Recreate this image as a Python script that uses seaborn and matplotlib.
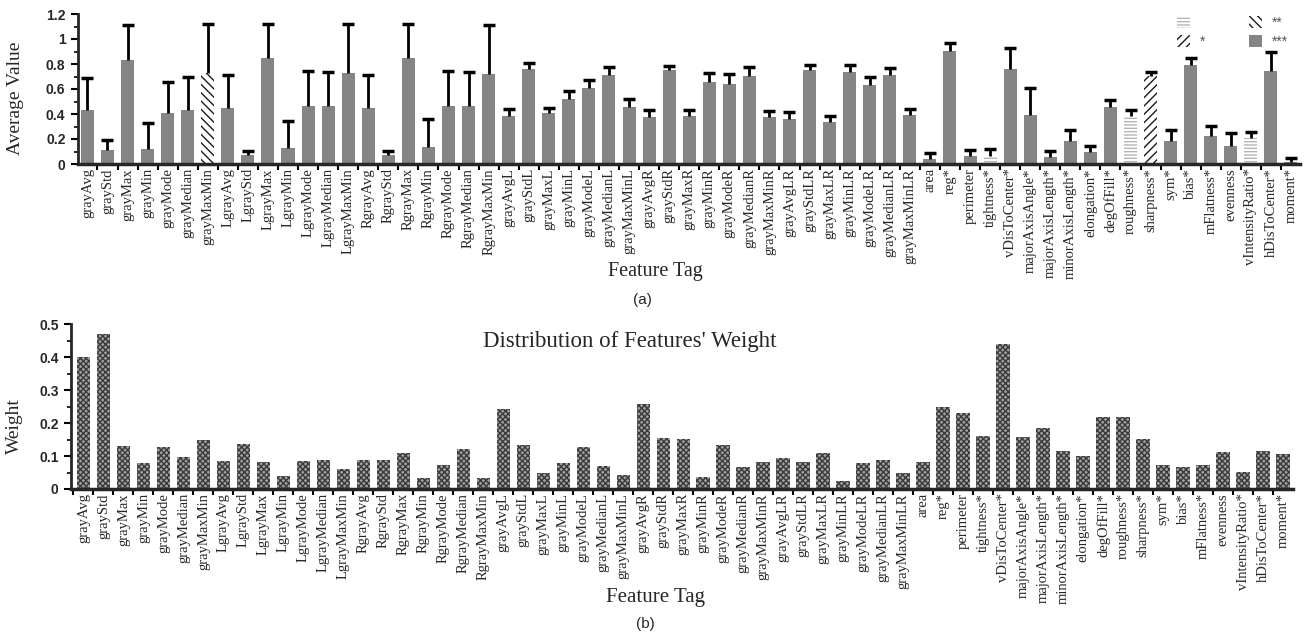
import numpy as np
import pandas as pd
import matplotlib
matplotlib.use("Agg")
import matplotlib.pyplot as plt
import seaborn as sns
from matplotlib.patches import Patch
from matplotlib.ticker import MultipleLocator, FixedLocator

features = [
    "grayAvg", "grayStd", "grayMax", "grayMin", "grayMode", "grayMedian", "grayMaxMin",
    "LgrayAvg", "LgrayStd", "LgrayMax", "LgrayMin", "LgrayMode", "LgrayMedian", "LgrayMaxMin",
    "RgrayAvg", "RgrayStd", "RgrayMax", "RgrayMin", "RgrayMode", "RgrayMedian", "RgrayMaxMin",
    "grayAvgL", "grayStdL", "grayMaxL", "grayMinL", "grayModeL", "grayMedianL", "grayMaxMinL",
    "grayAvgR", "grayStdR", "grayMaxR", "grayMinR", "grayModeR", "grayMedianR", "grayMaxMinR",
    "grayAvgLR", "grayStdLR", "grayMaxLR", "grayMinLR", "grayModeLR", "grayMedianLR", "grayMaxMinLR",
    "area", "reg*", "perimeter", "tightness*", "vDisToCenter*", "majorAxisAngle*",
    "majorAxisLength*", "minorAxisLength*", "elongation*", "degOfFill*", "roughness*",
    "sharpness*", "sym*", "bias*", "mFlatness*", "evenness", "vIntensityRatio*",
    "hDisToCenter*", "moment*",
]

# panel (a): mean value and top of the error bar
avg_value = [
    0.43, 0.11, 0.835, 0.117, 0.405, 0.43, 0.725,
    0.45, 0.072, 0.845, 0.125, 0.467, 0.467, 0.725,
    0.45, 0.072, 0.845, 0.133, 0.467, 0.467, 0.72,
    0.384, 0.76, 0.405, 0.52, 0.605, 0.712, 0.459,
    0.373, 0.752, 0.384, 0.659, 0.64, 0.704, 0.373,
    0.36, 0.749, 0.333, 0.738, 0.632, 0.712, 0.392,
    0.037, 0.904, 0.064, 0.067, 0.76, 0.392,
    0.053, 0.184, 0.093, 0.459, 0.384,
    0.704, 0.184, 0.792, 0.227, 0.144, 0.211,
    0.744, 0.013,
]
err_top = [
    0.69, 0.19, 1.11, 0.33, 0.66, 0.70, 1.12,
    0.71, 0.104, 1.12, 0.347, 0.747, 0.74, 1.12,
    0.71, 0.104, 1.12, 0.357, 0.747, 0.74, 1.11,
    0.443, 0.805, 0.45, 0.587, 0.672, 0.776, 0.517,
    0.432, 0.784, 0.432, 0.731, 0.72, 0.776, 0.424,
    0.419, 0.792, 0.384, 0.792, 0.70, 0.765, 0.443,
    0.085, 0.965, 0.109, 0.12, 0.925, 0.61,
    0.104, 0.272, 0.144, 0.515, 0.432,
    0.739, 0.272, 0.845, 0.307, 0.251, 0.259,
    0.898, 0.05,
]
# significance level per feature in panel (a)
significance = ["***"] * len(features)
significance[features.index("grayMaxMin")] = "**"
significance[features.index("sharpness*")] = "*"
for f in ["tightness*", "roughness*", "vIntensityRatio*"]:
    significance[features.index(f)] = ""

# panel (b): weight
weight = [
    0.40, 0.47, 0.131, 0.079, 0.128, 0.097, 0.15,
    0.085, 0.137, 0.081, 0.039, 0.085, 0.089, 0.062,
    0.089, 0.089, 0.108, 0.032, 0.072, 0.122, 0.032,
    0.241, 0.134, 0.049, 0.078, 0.128, 0.07, 0.043,
    0.257, 0.156, 0.153, 0.037, 0.134, 0.066, 0.082,
    0.094, 0.082, 0.11, 0.025, 0.078, 0.087, 0.047,
    0.082, 0.249, 0.23, 0.161, 0.44, 0.157,
    0.185, 0.116, 0.10, 0.218, 0.218,
    0.152, 0.072, 0.066, 0.072, 0.112, 0.053,
    0.116, 0.106,
]

serif = "Liberation Serif"
sans = "Liberation Sans"

sig_style = {
    "***": dict(facecolor="#858585", hatch=None, edgecolor="#858585"),
    "**": dict(facecolor="white", hatch="\\\\\\\\", edgecolor="#1a1a1a"),
    "*": dict(facecolor="white", hatch="////", edgecolor="#1a1a1a"),
    "": dict(facecolor="white", hatch="-----", edgecolor="#b5b5b5"),
}

sns.set_theme(style="ticks")
plt.rcParams["hatch.linewidth"] = 1.0

fig = plt.figure(figsize=(13.12, 6.37), dpi=100)
ax1 = fig.add_axes([78 / 1312, 1 - 164 / 637, 1222 / 1312, 150 / 637])
ax2 = fig.add_axes([71 / 1312, 1 - 489 / 637, 1222 / 1312, 165 / 637])

df_a = pd.DataFrame({"feature": features, "value": avg_value, "top": err_top, "sig": significance})
df_b = pd.DataFrame({"feature": features, "weight": weight})

# ---- (a) average value with one-sided error bars
sns.barplot(data=df_a, x="feature", y="value", color="#858585", width=0.65,
            saturation=1, ax=ax1, errorbar=None)
for bar, s in zip(ax1.patches, df_a["sig"]):
    st = sig_style[s]
    bar.set_facecolor(st["facecolor"])
    bar.set_edgecolor(st["edgecolor"])
    bar.set_linewidth(0)
    if st["hatch"]:
        bar.set_hatch(st["hatch"])
x = np.arange(len(features))
ax1.vlines(x, df_a["value"], df_a["top"], color="black", lw=2, zorder=3)
ax1.plot(x, df_a["top"], ls="none", marker="_", ms=8, mew=2.5, color="black", zorder=3)
ax1.set_ylim(0, 1.2)
ax1.set_xlim(-0.47, len(features) - 0.55)
ax1.yaxis.set_minor_locator(MultipleLocator(0.1))
ax1.set_yticks(np.arange(0, 1.21, 0.2))
ax1.set_yticklabels(["0", "0.2", "0.4", "0.6", "0.8", "1", "1.2"])
ax1.set_ylabel("Average Value", family=serif, fontsize=14)
ax1.yaxis.set_label_coords(-0.044, 0.44)
ax1.set_xlabel("Feature Tag", family=serif, fontsize=14.5)
ax1.xaxis.set_label_coords(0.4726, -0.655)

legend_handles = [
    Patch(facecolor="white", hatch=sig_style[k]["hatch"], edgecolor=sig_style[k]["edgecolor"],
          linewidth=0, label=k)
    for k in ["", "*", "**", "***"]
]
leg = ax1.legend(handles=legend_handles, ncol=2, loc="upper right", frameon=False,
                 bbox_to_anchor=(1.0, 1.07), handlelength=0.9, handleheight=0.9,
                 columnspacing=3.2, handletextpad=0.7, labelspacing=0.35,
                 prop={"family": sans, "size": 10})
leg.legend_handles[3].set_facecolor("#858585")
for t in leg.get_texts():
    t.set_color("#555555")

# ---- (b) weights
sns.barplot(data=df_b, x="feature", y="weight", color="#9a9a9a", width=0.68,
            saturation=1, ax=ax2, errorbar=None)
for bar in ax2.patches:
    bar.set_facecolor("#a0a0a0")
    bar.set_edgecolor("#3a3a3a")
    bar.set_linewidth(0)
    bar.set_hatch("xxxxxx")
ax2.set_ylim(0, 0.5)
ax2.set_xlim(-0.62, len(features) - 0.51)
ax2.yaxis.set_minor_locator(MultipleLocator(0.05))
ax2.set_yticks(np.arange(0, 0.51, 0.1))
ax2.set_yticklabels(["0", "0.1", "0.2", "0.3", "0.4", "0.5"])
ax2.set_ylabel("Weight", family=serif, fontsize=14)
ax2.yaxis.set_label_coords(-0.039, 0.38)
ax2.set_xlabel("Feature Tag", family=serif, fontsize=15)
ax2.xaxis.set_label_coords(0.478, -0.6)
ax2.set_title("Distribution of Features' Weight", family=serif, fontsize=16.5,
              x=0.457, y=0.81)

for ax in (ax1, ax2):
    sns.despine(ax=ax)
    ax.spines["left"].set_linewidth(2)
    ax.spines["bottom"].set_linewidth(2.5)
    ax.tick_params(axis="x", which="major", length=0, pad=3)
    ax.xaxis.set_minor_locator(FixedLocator(np.arange(-0.5, len(features), 1.0)))
    ax.tick_params(axis="x", which="minor", length=4, width=1.5, direction="out", color="black")
    ax.tick_params(axis="y", which="major", length=5, width=1.5, color="black", pad=4)
    ax.tick_params(axis="y", which="minor", length=3, width=1.2, color="black")
    for lab in ax.get_xticklabels():
        lab.set_rotation(90)
        lab.set_family(serif)
        lab.set_fontsize(10.5)
    for lab in ax.get_yticklabels():
        lab.set_family(sans)
        lab.set_fontweight("bold")
        lab.set_fontsize(10)

fig.text(642 / 1312, 1 - 300 / 637, "(a)", family=sans, fontsize=11, ha="center", va="center")
fig.text(645 / 1312, 1 - 624 / 637, "(b)", family=sans, fontsize=11, ha="center", va="center")

fig.savefig("out.png", dpi=100)
